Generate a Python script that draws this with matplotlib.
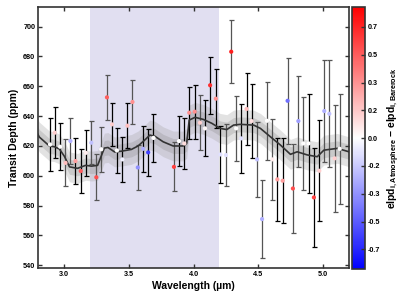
import numpy as np
import matplotlib
matplotlib.use("Agg")
import matplotlib.pyplot as plt
from matplotlib.ticker import FormatStrFormatter
from matplotlib.colors import Normalize

plt.rcParams['font.family'] = ['Liberation Sans', 'DejaVu Sans']
plt.rcParams['font.weight'] = 'bold'
plt.rcParams['mathtext.fontset'] = 'custom'
plt.rcParams['mathtext.rm'] = 'Liberation Sans:bold'
plt.rcParams['mathtext.bf'] = 'Liberation Sans:bold'
plt.rcParams['mathtext.it'] = 'Liberation Sans:bold'
plt.rcParams['mathtext.default'] = 'bf'

# ---- data ----
wl = [2.893, 2.929, 2.971, 3.012, 3.050, 3.089, 3.130, 3.169, 3.211, 3.250,
      3.288, 3.332, 3.371, 3.409, 3.451, 3.490, 3.529, 3.570, 3.611, 3.650,
      3.691, 3.849, 3.888, 3.929, 3.967, 4.009, 4.050, 4.089, 4.128, 4.172,
      4.208, 4.250, 4.291, 4.329, 4.368, 4.409, 4.448, 4.490, 4.529, 4.567,
      4.609, 4.647, 4.688, 4.726, 4.767, 4.809, 4.847, 4.888, 4.929, 4.971,
      5.009, 5.048, 5.089, 5.128]
depth = [621.0, 628.9, 619.5, 608.7, 623.3, 609.9, 603.2, 615.4, 622.2, 599.0,
         617.8, 652.6, 634.5, 617.0, 611.0, 633.6, 649.5, 605.6, 618.1, 615.7,
         625.4, 606.0, 623.3, 621.7, 642.3, 643.0, 635.6, 631.8, 660.7, 651.7,
         614.3, 613.9, 683.2, 631.8, 625.1, 644.8, 636.7, 611.0, 571.0, 636.9,
         611.0, 597.6, 596.7, 650.3, 591.5, 636.7, 621.7, 621.7, 585.5, 603.4,
         643.4, 641.6, 611.7, 618.1]
err = [18.0, 17.0, 15.7, 15.7, 15.7, 15.3, 15.0, 15.5, 14.5, 15.3,
       15.0, 15.0, 14.5, 15.0, 15.3, 15.0, 15.0, 15.0, 15.4, 15.5,
       16.0, 16.5, 16.8, 17.3, 17.5, 18.0, 18.4, 18.8, 19.0, 19.7,
       19.0, 20.7, 21.0, 22.0, 23.0, 24.0, 25.0, 25.4, 26.0, 26.3,
       27.4, 28.0, 28.5, 28.9, 30.0, 30.5, 31.0, 33.0, 33.0, 34.0,
       34.0, 36.0, 36.0, 37.0]
delpd = [0.0, 0.15, 0.0, 0.2, -0.25, 0.3, 0.5, 0.05, -0.2, 0.55,
         0.0, 0.5, 0.15, 0.0, -0.05, 0.2, 0.35, -0.35, -0.25, -0.6,
         0.0, 0.6, 0.0, 0.1, 0.35, 0.35, 0.15, 0.02, 0.65, 0.35,
         -0.1, -0.1, 0.7, 0.0, -0.1, 0.2, 0.1, -0.2, -0.25, 0.0,
         0.05, 0.3, 0.3, -0.45, 0.55, -0.3, 0.0, 0.0, 0.6, 0.15,
         -0.25, -0.2, 0.15, 0.0]
visit = list("kkkggkkkgg"
             "ggkkkkggkk"
             "kgkkkkgkkk"
             "kgggkkkggg"
             "gkkggggkkk"
             "gggg")

model_wl = [2.795, 2.81, 2.888, 2.926, 2.965, 3.004, 3.043, 3.105, 3.167, 3.213,
            3.26, 3.312, 3.34, 3.391, 3.443, 3.521, 3.572, 3.624, 3.663, 3.702,
            3.766, 3.843, 3.921, 3.947, 3.967, 4.012, 4.076, 4.141, 4.205, 4.257,
            4.309, 4.36, 4.464, 4.516, 4.593, 4.671, 4.748, 4.8, 4.878, 4.955,
            5.006, 5.11, 5.2]
model_depth = [628.5, 626.0, 620.0, 619.5, 618.0, 613.0, 606.0, 605.0, 607.0, 606.5,
               607.0, 618.6, 619.0, 616.0, 616.5, 617.7, 620.0, 624.0, 627.3, 626.5,
               622.8, 620.0, 620.0, 621.7, 637.4, 639.2, 637.8, 635.2, 631.8, 631.0,
               634.0, 634.5, 634.0, 631.8, 626.2, 620.6, 614.4, 616.1, 614.0, 612.8,
               617.2, 618.4, 616.1]

window = (3.2, 4.2)
cbar_ticks = [-0.68, -0.51, -0.34, -0.17, 0.0, 0.17, 0.34, 0.51, 0.68]

# ---- figure ----
fig = plt.figure(figsize=(4.15, 3.02), dpi=100)
ax = fig.add_axes([0.0916, 0.1116, 0.7494, 0.8644])
cax = fig.add_axes([0.8475, 0.109, 0.032, 0.867])

ax.axvspan(window[0], window[1], color='#e1dff1', zorder=0, lw=0)

mw = np.array(model_wl)
md = np.array(model_depth)
ax.fill_between(mw, md - 10, md + 10, color='#a8a8a8', alpha=0.33, lw=0, zorder=1)
ax.fill_between(mw, md - 5, md + 5, color='#8a8a8a', alpha=0.28, lw=0, zorder=1)

bar_colors = {'k': 'black', 'g': '#555555'}
for x, y, e, v in zip(wl, depth, err, visit):
    ax.errorbar([x], [y], yerr=[e], fmt='none', ecolor=bar_colors[v],
                elinewidth=0.9, capsize=1.8, capthick=0.9, zorder=2)

ax.plot(mw, md, color='#333333', lw=1.2, zorder=3)

norm = Normalize(vmin=-0.8, vmax=0.8)
sc = ax.scatter(wl, depth, c=delpd, cmap='bwr', norm=norm, s=9, lw=0, zorder=4)

ax.set_xlim(2.8, 5.2)
ax.set_ylim(538, 713)
ax.set_xticks([3.0, 3.5, 4.0, 4.5, 5.0])
ax.set_yticks(np.arange(540, 701, 20))
ax.xaxis.set_major_formatter(FormatStrFormatter('%.1f'))
ax.tick_params(direction='in', top=True, right=True, length=3, width=1.0,
               labelsize=5.2, pad=2, color='#333333')
for s in ax.spines.values():
    s.set_linewidth(1.2)
    s.set_color('#333333')

ax.set_xlabel('Wavelength (µm)', fontsize=7.5, fontweight='bold', labelpad=2)
ax.set_ylabel('Transit Depth (ppm)', fontsize=7.5, fontweight='bold', labelpad=3)

cb = fig.colorbar(sc, cax=cax)
cb.set_ticks(cbar_ticks)
cb.ax.yaxis.set_major_formatter(FormatStrFormatter('%.1f'))
cb.ax.tick_params(direction='in', length=3, width=1.0, labelsize=5.2, pad=2, color='#333333')
cb.outline.set_linewidth(1.2)
cb.outline.set_edgecolor('#333333')
cb.set_label(r'elpd$_{i,\mathrm{Atmosphere}}$ − elpd$_{i,\mathrm{Barerock}}$',
             fontsize=7.5, fontweight='bold', labelpad=4)

fig.savefig('out.png', dpi=100)
